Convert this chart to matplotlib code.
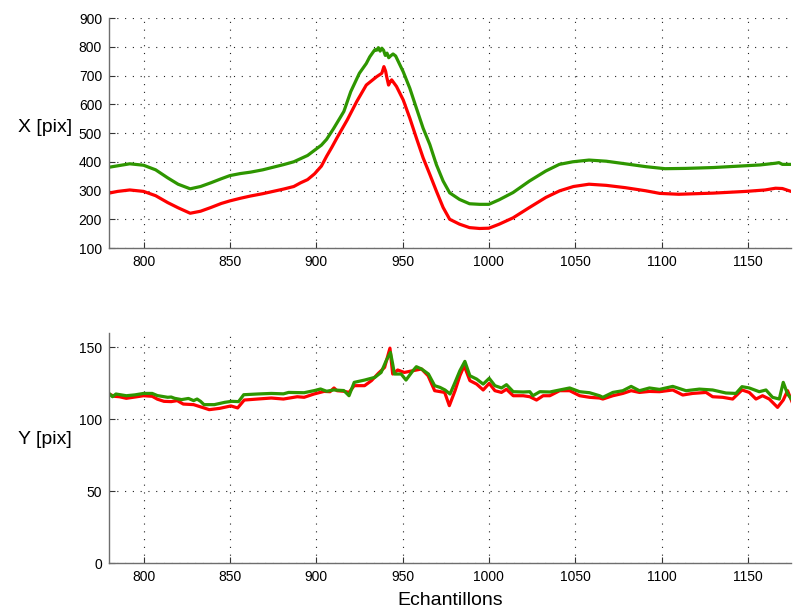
import matplotlib
matplotlib.use("Agg")
import matplotlib.pyplot as plt

plt.rcParams['font.family'] = ['Liberation Sans', 'DejaVu Sans']

# ---------- top panel (X [pix]) ----------
top_green_x = [780, 785, 792, 800, 807, 814, 820, 827, 833, 839, 845, 850, 856, 862, 869,
               875, 881, 887, 891, 895, 899, 903, 906, 910, 916, 920, 925, 929, 931, 933,
               934, 935, 936, 937, 938, 939, 940, 941, 942, 943, 944.5, 946, 950.4, 954.2,
               958, 961.9, 965.8, 969.6, 973.5, 977.3, 983, 988.8, 994.6, 1000, 1006, 1014,
               1023.5, 1033, 1040.8, 1048.6, 1058, 1068, 1079, 1091, 1102, 1114, 1130, 1145,
               1157, 1166, 1168, 1170, 1175]
top_green = [381, 386, 393, 388, 372, 344, 322, 306, 314, 327, 341, 352, 359, 364, 372,
             381, 390, 400, 411, 422, 440, 458, 478, 515, 575, 644, 708, 742, 765, 782,
             790, 788, 797, 785, 795, 788, 770, 778, 762, 768, 775, 768, 713, 656,
             587, 517, 460, 390, 333, 292, 269, 254, 252, 252, 268, 293,
             333, 368, 391, 400, 406, 402, 393, 383, 376, 377, 380, 385,
             389, 395, 397, 391, 391]

top_red_x = [780, 785, 792, 800, 807, 814, 820, 827, 833, 839, 845, 850, 856, 862, 869,
             875, 881, 887, 891, 895, 899, 903, 906, 909, 912, 918, 923.5, 929, 935, 938,
             939.2, 940.2, 940.8, 941.9, 943, 943.7, 946.5, 950.4, 954.2, 958, 961.9, 965.8,
             969.6, 973.5, 977.3, 983, 988.8, 994.6, 1000, 1006, 1014, 1023.5, 1033, 1041,
             1049, 1058, 1068, 1079, 1091, 1099, 1110, 1130, 1149, 1160, 1166, 1170, 1175]
top_red = [291, 297, 302, 297, 282, 258, 240, 221, 228, 241, 255, 264, 273, 281, 289,
           297, 305, 314, 327, 338, 358, 385, 419, 450, 483, 546, 610, 667, 696, 708,
           731, 715, 696, 667, 680, 685, 662, 615, 552, 483, 414, 356,
           298, 241, 200, 183, 171, 168, 169, 183, 205, 241, 276, 299,
           314, 322, 318, 310, 299, 290, 287, 291, 297, 302, 308, 307, 297]

# ---------- bottom panel (Y [pix]) ----------
bot_green_x = [780, 782, 784, 787, 790, 795, 800, 805, 808, 814, 816, 818, 822, 826, 829,
               831, 833, 835, 841, 847, 851, 855, 858, 866, 874, 881, 884, 893, 899, 902.5,
               906, 910, 916, 919, 922, 928, 934, 937.6, 940.5, 943, 944.3, 945.3, 949.2, 952,
               956, 958, 961, 965, 968.6, 971.7, 974.6, 977.5, 980.4, 983.2, 986.1, 989,
               992.9, 996.7, 1000.2, 1003.5, 1007.3, 1010.2, 1014.1, 1019.9, 1023.7, 1025.5,
               1029.5, 1035.3, 1041, 1046.8, 1052.6, 1058.3, 1064.1, 1066, 1071.8, 1077.6,
               1082.4, 1087.2, 1093, 1098.8, 1106.5, 1114.2, 1121.9, 1129.6, 1137.3, 1143.1,
               1146.6, 1150.8, 1156.6, 1160.5, 1164.3, 1168.2, 1170.5, 1173, 1175.7]
bot_green = [118, 115.7, 117.6, 117, 116.4, 117, 118, 118, 116.5, 115.3, 115.5, 114.6, 113.7, 114.5, 113,
             114.1, 112.5, 110.2, 110.2, 111.8, 112.5, 112.3, 117.1, 117.6, 118, 117.7, 118.7, 118.5, 120, 121.1,
             119.5, 120.4, 120, 116.4, 125.7, 127.3, 129.2, 132.6, 140.7, 146.5, 138.4, 131.5, 131.5, 127.3,
             133.8, 136.6, 135, 131.5, 123.4, 122.2, 120.4, 117.6, 125.7, 133.8, 140.3, 130.3,
             128, 124.5, 128.5, 123.4, 121.8, 124.1, 119.2, 119, 119.2, 116.4,
             119.2, 119, 120.4, 121.8, 119.2, 118.5, 116.4, 115.3, 118.7, 119.9,
             122.9, 119.9, 121.8, 120.8, 122.9, 119.9, 121, 120.4, 118.3, 118,
             122.7, 121.8, 119.2, 120.4, 115.3, 114.1, 125.7, 117.6, 113.4]

bot_red_x = [780, 783, 786, 790, 795, 800, 805, 808, 811.8, 816, 819.5, 823, 829, 835, 838,
             844, 850.6, 854.5, 858.3, 866, 874, 881, 889, 893, 898.7, 904.5, 908, 910.3, 912,
             916, 919, 922, 928, 932, 936, 939.6, 942.7, 944.3, 947.2, 951, 956, 961, 964.8,
             968.6, 974.4, 977.1, 980.4, 983.2, 985.7, 989, 992.9, 996.7, 1000.2, 1003.5,
             1007.3, 1010.2, 1014.1, 1019.9, 1023.7, 1027.6, 1031.4, 1035.3, 1041, 1046.8,
             1052.6, 1058.3, 1064.1, 1066, 1071.8, 1077.6, 1082.4, 1087.2, 1093, 1098.8,
             1106.5, 1112.3, 1118, 1125.8, 1129.6, 1135.4, 1141.2, 1146.6, 1150.8, 1154.7,
             1158.5, 1162.4, 1167.2, 1170.5, 1173, 1175.7]
bot_red = [117.6, 116, 115.7, 114.6, 115.5, 116.4, 116, 114, 112.5, 112.3, 113, 110.6, 110.2, 107.9, 106.7,
           107.6, 109.3, 107.9, 113.4, 114.1, 114.8, 114.1, 115.7, 115.3, 117.6, 119.4, 119.2, 121.8, 119.9,
           119.5, 118.7, 123.4, 123.4, 126.9, 132, 136.1, 149.5, 131.5, 134.3, 132.6, 133.8, 135, 130.3,
           119.9, 118.7, 109.5, 119.9, 130.3, 137.3, 126.9, 124.5, 120.4, 125, 119.9,
           118.7, 120.9, 116.4, 116.4, 115.7, 113.4, 116.4, 116.4, 119.9, 119.9,
           116.4, 115.3, 114.8, 114.1, 116.4, 118, 119.9, 118.7, 119.4, 119.2,
           120.4, 116.9, 118, 118.7, 115.7, 115.3, 114.1, 120.4, 118.7, 114.1,
           116.4, 114.1, 108.3, 113.4, 119.9, 111.8]

x_ticks = [800, 850, 900, 950, 1000, 1050, 1100, 1150]
top_yticks = [100, 200, 300, 400, 500, 600, 700, 800, 900]
bot_yticks = [0, 50, 100, 150]

RED = '#ff0000'
GREEN = '#2e9600'
SPINE = '#6e6e6e'

fig = plt.figure(figsize=(7.93, 6.10), dpi=100)
ax1 = fig.add_axes([0.1375, 0.5934, 0.860, 0.377])
ax2 = fig.add_axes([0.1375, 0.0770, 0.860, 0.377])


def style(ax, yticks, ylim, ylabel, lab_y):
    ax.set_xlim(780, 1175)
    ax.set_ylim(*ylim)
    ax.set_xticks(x_ticks)
    ax.set_yticks(yticks)
    for s in ['top', 'right']:
        ax.spines[s].set_visible(False)
    for s in ['left', 'bottom']:
        ax.spines[s].set_color(SPINE)
        ax.spines[s].set_linewidth(1.0)
    ax.tick_params(direction='in', length=4, width=0.8, color='#333333',
                   labelsize=10, pad=5)
    ax.grid(True, color='#222222', linestyle=(0, (1.0, 6.0)), linewidth=0.8)
    ax.set_axisbelow(True)
    ax.set_ylabel(ylabel, rotation=0, ha='right', va='center', fontsize=14)
    ax.yaxis.set_label_coords(-0.054, lab_y)


ax1.plot(top_red_x, top_red, color=RED, lw=2.3)
ax1.plot(top_green_x, top_green, color=GREEN, lw=2.3)
style(ax1, top_yticks, (100, 900), 'X [pix]', 0.526)

ax2.plot(bot_red_x, bot_red, color=RED, lw=2.3)
ax2.plot(bot_green_x, bot_green, color=GREEN, lw=2.3)
style(ax2, bot_yticks, (0, 160), 'Y [pix]', 0.535)
ax2.set_xlabel('Echantillons', fontsize=14, labelpad=6)

fig.savefig('out.png', dpi=100)
